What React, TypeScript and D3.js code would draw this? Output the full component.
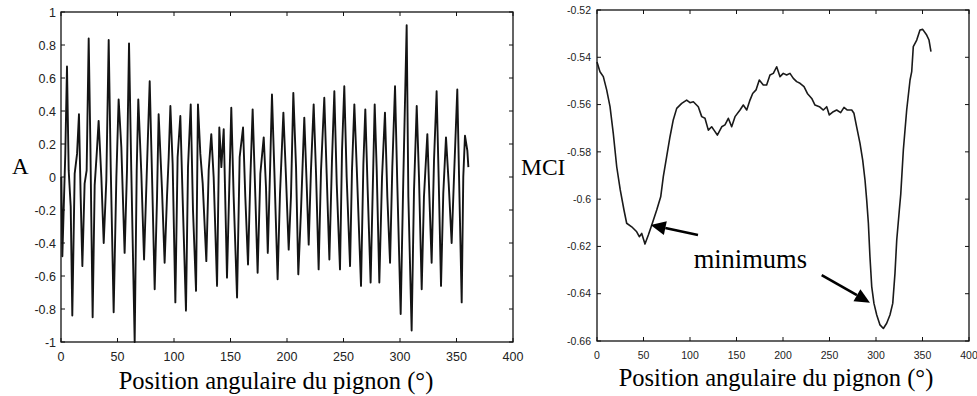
import React from 'react';
import * as d3 from 'd3';

// ---------- data ----------
const signalAngle = [
  0.3, 1.2, 2.7, 3.8, 5.3, 6.8, 8.6, 10.0, 12.1, 14.2, 15.9, 17.4, 18.9, 20.9, 22.7, 24.5, 26.0, 26.8, 28.0, 29.8,
  31.6, 33.3, 35.7, 37.8, 40.1, 42.2, 44.0, 46.6, 49.0, 51.0, 53.4, 56.3, 58.4, 60.2, 62.2, 65.2, 67.0, 68.4, 71.1, 73.5,
  75.8, 78.5, 80.8, 82.9, 85.0, 86.4, 89.4,
  91.7, 93.8, 95.3, 96.8, 98.8, 101.2, 103.2, 105.6, 107.7, 110.6, 112.4, 114.8, 116.8, 119.5, 121.2, 123.3, 125.4, 128.6,
  130.7, 133.0, 135.1, 138.1, 140.1, 141.9, 144.0, 146.9, 149.0, 150.7, 152.8, 155.8, 158.1, 161.1, 163.1, 165.5, 167.6,
  169.6, 172.0, 174.0, 176.4, 179.4, 181.4,
  183.0, 185.0, 186.7, 188.8, 191.7, 193.8, 196.8, 199.1, 201.5, 203.5, 205.6, 208.0, 210.0, 212.4, 215.3, 217.4, 219.2,
  221.2, 223.6, 225.7, 228.0, 230.1, 233.0, 235.1, 237.5, 239.8, 241.9, 244.0, 246.9, 248.7, 250.7, 252.8, 255.8, 257.5,
  259.6, 261.7, 265.5, 267.6, 269.3, 271.4, 274.0,
  277.6, 279.4, 281.7, 284.1, 286.7, 288.8, 291.2, 293.2, 295.6, 297.6, 300.6, 302.9, 305.9, 307.4, 310.3, 312.4, 314.8,
  316.8, 319.2, 321.2, 324.2, 326.0, 328.0, 330.1, 332.4, 334.2, 336.3, 338.3, 340.7, 343.1, 345.7, 347.8, 350.7, 352.5,
  354.6, 356.0, 357.5, 359.6, 360.5,
];
const signalAmp = [
  0.0, -0.48, -0.12, 0.14, 0.67, 0.04, -0.18, -0.84, 0.02, 0.14, 0.38, -0.12, -0.54, -0.04, 0.04, 0.84, 0.2, -0.24, -0.85, -0.05,
  0.14, 0.34, 0.0, -0.4, -0.02, 0.83, 0.06, -0.82, 0.0, 0.47, 0.18, -0.46, 0.04, 0.81, 0.04, -1.0, 0.04, 0.47, 0.02, -0.5,
  0.0, 0.58, -0.06, -0.68, -0.12, 0.38, -0.08,
  -0.52, -0.12, 0.12, 0.43, 0.08, -0.76, 0.12, 0.37, -0.14, -0.81, 0.06, 0.44, -0.2, -0.69, 0.44, 0.14, -0.04, -0.51,
  0.04, 0.26, 0.0, -0.66, 0.3, 0.06, 0.29, -0.61, -0.04, 0.42, -0.12, -0.73, 0.12, 0.3, -0.12, -0.53, 0.0,
  0.41, -0.12, -0.58, 0.02, 0.24, -0.06,
  -0.46, 0.04, 0.5, 0.04, -0.62, -0.1, 0.39, 0.0, -0.44, -0.12, 0.51, 0.06, -0.59, -0.2, 0.36, -0.04, -0.41,
  0.04, 0.44, 0.02, -0.56, 0.04, 0.48, 0.02, -0.5, 0.1, 0.52, -0.04, -0.56, 0.16, 0.55, 0.0, -0.54, 0.04,
  0.44, 0.06, -0.66, 0.08, 0.41, -0.08, -0.64,
  0.44, 0.04, -0.64, 0.0, 0.39, -0.12, -0.52, 0.06, 0.55, -0.04, -0.83, -0.02, 0.92, -0.12, -0.93, -0.08, 0.43,
  0.0, -0.68, -0.12, 0.26, -0.12, -0.52, 0.1, 0.52, 0.0, -0.66, -0.1, 0.24, -0.04, -0.4, 0.0, 0.53, -0.08,
  -0.76, 0.0, 0.25, 0.16, 0.06,
];

const mciAngle = [
  0, 3.2, 6.8, 10.4, 14, 17.5, 21.2, 25, 29, 31.9, 37.3, 42.7, 45.5, 48.1, 51.6, 55.2, 58.8, 64.2, 68.5, 71.3,
  74.9, 78.5, 82, 85.7, 91.1, 96.4, 100, 103.6, 108.9, 112.6, 116.1, 119.7, 123.3, 125.8, 129.4, 134.1, 137.6, 141.2, 144.8, 148.4,
  153.8, 157.3, 161, 164.5, 167.4, 171, 174.5, 178.8, 182.4, 186, 189.6, 193.2, 196.8, 200.3, 203.9, 207.5, 211.1, 214.7, 218.3, 222.6,
  226.2, 230.9, 234.4, 239.1, 243.4, 247, 249.8, 254.1, 257.7, 262, 265.6, 269.2, 273.9, 276.3, 279.2, 282.8, 285.7, 288.2, 290, 291.8,
  293.5, 295.4, 297.8, 300.8, 304.3, 307.9, 311.5, 315, 318, 320.4, 322.3, 325.1, 326.6, 329.4, 333, 336.6, 338.4, 340.1, 343.8, 347.3,
  350.2, 354.5, 357, 359.1,
];
const mciValue = [
  -0.542, -0.5461, -0.5482, -0.5538, -0.5609, -0.5722, -0.5863, -0.5961, -0.6046, -0.6102, -0.6117, -0.6138, -0.6159, -0.6145, -0.619, -0.6152, -0.611, -0.6046, -0.599, -0.5905,
  -0.582, -0.5736, -0.5665, -0.5616, -0.5595, -0.5581, -0.5592, -0.5588, -0.5609, -0.5651, -0.5658, -0.5708, -0.5694, -0.5708, -0.5729, -0.5694, -0.5686, -0.5658, -0.5694, -0.5651,
  -0.5623, -0.5602, -0.5623, -0.5581, -0.5553, -0.5538, -0.5496, -0.5517, -0.5517, -0.5475, -0.5468, -0.544, -0.5482, -0.5468, -0.5475, -0.5468, -0.5489, -0.5503, -0.551, -0.5524,
  -0.5553, -0.5574, -0.5602, -0.5609, -0.5623, -0.5609, -0.5644, -0.563, -0.5623, -0.5634, -0.5612, -0.5623, -0.5623, -0.5637, -0.5694, -0.5764, -0.5835, -0.592, -0.6004, -0.6102,
  -0.6244, -0.637, -0.6441, -0.649, -0.6532, -0.6547, -0.6525, -0.649, -0.6441, -0.6314, -0.6173, -0.6046, -0.598, -0.5792, -0.5623, -0.5496, -0.5461, -0.5355, -0.5327, -0.5285,
  -0.5282, -0.5306, -0.5327, -0.5376,
];

const xTicks = [0, 50, 100, 150, 200, 250, 300, 350, 400];
const xTickLabels = ['0', '50', '100', '150', '200', '250', '300', '350', '400'];
const leftYTicks = [-1, -0.8, -0.6, -0.4, -0.2, 0, 0.2, 0.4, 0.6, 0.8, 1];
const leftYTickLabels = ['-1', '-0.8', '-0.6', '-0.4', '-0.2', '0', '0.2', '0.4', '0.6', '0.8', '1'];
const rightYTicks = [-0.66, -0.64, -0.62, -0.6, -0.58, -0.56, -0.54, -0.52];
const rightYTickLabels = ['-0.66', '-0.64', '-0.62', '-0.6', '-0.58', '-0.56', '-0.54', '-0.52'];

const xTitle = 'Position angulaire du pignon (°)';
const leftYTitle = 'A';
const rightYTitle = 'MCI';
const annotationText = 'minimums';
const annotationAt = [103.9, -0.6292];
const arrowTails = [[108.6, -0.6152], [241.6, -0.6321]];
const arrowTips = [[57.7, -0.6109], [293.5, -0.6438]];

// ---------- layout ----------
const W = 977;
const H = 396;
const serif = "'Liberation Serif', 'Times New Roman', Times, serif";
const sans = "'Liberation Sans', Arial, Helvetica, sans-serif";

const L = { x0: 61, x1: 513, y0: 12, y1: 342 };
const R = { x0: 597, x1: 969, y0: 10, y1: 341 };

const lx = d3.scaleLinear().domain([0, 400]).range([L.x0, L.x1]);
const ly = d3.scaleLinear().domain([-1, 1]).range([L.y1, L.y0]);
const rx = d3.scaleLinear().domain([0, 400]).range([R.x0, R.x1]);
const ry = d3.scaleLinear().domain([-0.66, -0.52]).range([R.y1, R.y0]);

type Box = { x0: number; x1: number; y0: number; y1: number };

function Frame({ box, xs, ys, yTicks, yLabels, fs, xLabelY, yLabelX }: {
  box: Box; xs: d3.ScaleLinear<number, number>; ys: d3.ScaleLinear<number, number>;
  yTicks: number[]; yLabels: string[]; fs: number; xLabelY: number; yLabelX: number;
}) {
  const tl = 4;
  return (
    <g>
      <rect x={box.x0} y={box.y0} width={box.x1 - box.x0} height={box.y1 - box.y0}
        fill="none" stroke="#111" strokeWidth={1.3} />
      {xTicks.map((t, i) => (
        <g key={'x' + i}>
          <line x1={xs(t)} x2={xs(t)} y1={box.y1} y2={box.y1 - tl} stroke="#111" strokeWidth={1} />
          <line x1={xs(t)} x2={xs(t)} y1={box.y0} y2={box.y0 + tl} stroke="#111" strokeWidth={1} />
          <text x={xs(t)} y={xLabelY} textAnchor="middle" style={{ fontFamily: sans }} fontSize={fs}
            fill="#222">{xTickLabels[i]}</text>
        </g>
      ))}
      {yTicks.map((t, i) => (
        <g key={'y' + i}>
          <line x1={box.x0} x2={box.x0 + tl} y1={ys(t)} y2={ys(t)} stroke="#111" strokeWidth={1} />
          <line x1={box.x1} x2={box.x1 - tl} y1={ys(t)} y2={ys(t)} stroke="#111" strokeWidth={1} />
          <text x={yLabelX} y={ys(t)} dy="0.36em" textAnchor="end" style={{ fontFamily: sans }} fontSize={fs}
            fill="#222">{yLabels[i]}</text>
        </g>
      ))}
    </g>
  );
}

function Arrow({ tail, tip }: { tail: number[]; tip: number[] }) {
  const x1 = rx(tail[0]), y1 = ry(tail[1]);
  const x2 = rx(tip[0]), y2 = ry(tip[1]);
  const dx = x2 - x1, dy = y2 - y1;
  const len = Math.hypot(dx, dy);
  const ux = dx / len, uy = dy / len;
  const hl = 15, hw = 7;
  const bx = x2 - ux * hl, by = y2 - uy * hl;
  const pts = [
    [x2, y2],
    [bx - uy * hw, by + ux * hw],
    [bx + uy * hw, by - ux * hw],
  ].map((p) => p.join(',')).join(' ');
  return (
    <g>
      <line x1={x1} y1={y1} x2={bx} y2={by} stroke="#000" strokeWidth={2.6} />
      <polygon points={pts} fill="#000" />
    </g>
  );
}

export default function App() {
  const sigLine = d3.line<number>()
    .x((_, i) => lx(signalAngle[i]))
    .y((d) => ly(d));
  const mciLine = d3.line<number>()
    .x((_, i) => rx(mciAngle[i]))
    .y((d) => ry(d));

  const serifStyle = { fontFamily: serif };

  return (
    <svg width={W} height={H} viewBox={`0 0 ${W} ${H}`}
      style={{ position: 'absolute', left: 0, top: 0, background: '#fff' }}>
      <rect x={0} y={0} width={W} height={H} fill="#fff" />

      {/* left panel */}
      <path d={sigLine(signalAmp) || ''} fill="none" stroke="#141414" strokeWidth={1.9}
        strokeLinejoin="round" />
      <Frame box={L} xs={lx} ys={ly} yTicks={leftYTicks} yLabels={leftYTickLabels}
        fs={12.5} xLabelY={361} yLabelX={56} />
      <text x={12} y={174} style={serifStyle} fontSize={23} fill="#000">{leftYTitle}</text>
      <text x={276} y={389} textAnchor="middle" style={serifStyle} fontSize={24.5}
        fill="#000">{xTitle}</text>

      {/* right panel */}
      <path d={mciLine(mciValue) || ''} fill="none" stroke="#1a1a1a" strokeWidth={1.6}
        strokeLinejoin="round" />
      <Frame box={R} xs={rx} ys={ry} yTicks={rightYTicks} yLabels={rightYTickLabels}
        fs={10.5} xLabelY={359} yLabelX={591} />
      <text x={521} y={175} style={serifStyle} fontSize={23.5} fill="#000">{rightYTitle}</text>
      <text x={776} y={386} textAnchor="middle" style={serifStyle} fontSize={24.5}
        fill="#000">{xTitle}</text>

      <text x={rx(annotationAt[0])} y={ry(annotationAt[1])} style={serifStyle} fontSize={26.5}
        fill="#000">{annotationText}</text>
      {arrowTails.map((t, i) => (
        <Arrow key={i} tail={t} tip={arrowTips[i]} />
      ))}
    </svg>
  );
}
